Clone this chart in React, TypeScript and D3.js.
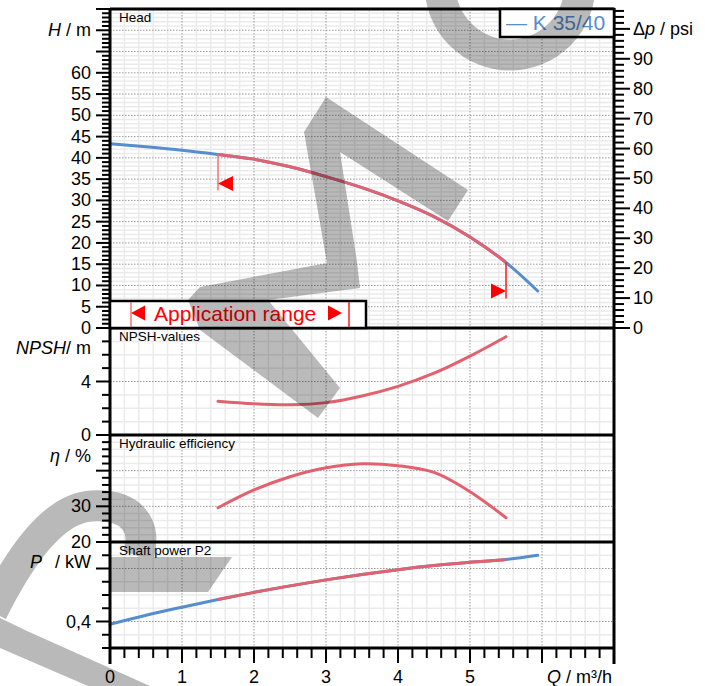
import { useEffect, useRef } from 'react';
import * as d3 from 'd3';

// pump curve K 35/40
const Q_FULL = [0, 0.5, 1, 1.5, 2, 2.5, 3, 3.5, 4, 4.5, 5, 5.5, 5.94];
const HEAD_M = [43.3, 42.6, 41.8, 40.8, 39.7, 37.9, 35.6, 33.0, 29.9, 26.2, 21.4, 15.4, 8.7];
const POWER_KW = [0.379, 0.447, 0.508, 0.566, 0.62, 0.669, 0.714, 0.755, 0.791, 0.822, 0.847, 0.868, 0.9];

const Q_RANGE = [1.5, 2, 2.5, 3, 3.5, 4, 4.5, 5, 5.5];
const NPSH_M = [2.52, 2.33, 2.26, 2.42, 2.92, 3.64, 4.62, 5.9, 7.35];
const EFF_PCT = [29.6, 34.6, 38.3, 40.8, 41.95, 41.4, 39.5, 34.1, 26.8];

const APP_RANGE = [1.5, 5.5];

const Q_LABELS = [0, 1, 2, 3, 4, 5];
const H_LABELS = [0, 5, 10, 15, 20, 25, 30, 35, 40, 45, 50, 55, 60];
const PSI_LABELS = [0, 10, 20, 30, 40, 50, 60, 70, 80, 90];
const NPSH_LABELS = [0, 4];
const EFF_LABELS = [20, 30];
const P_LABELS = [0.4];

const M_TO_PSI = 1.42197;
const FONT = '"Liberation Sans", Arial, Helvetica, sans-serif';
const BLUE = '#558dcd';
const RED = '#e2616e';

// watermark (decorative, pixel space)
const WATERMARK_FILLS = [
  'M326,97 L468,190 L448,221 L340,152 L357,262 L360,288 L268,300 L340,388 L318,418 L200,330 L188,300 L200,287 L327,263 L304,132 Z',
  'M110,557 L232,557 L208,592 L110,592 Z',
  'M0,618 L27,631 L150,686 L88,686 L0,648 Z',
];
const WATERMARK_STROKES = [
  'M440,-15 A70,70 0 0 0 580,-15',
  'M-8,612 C18,560 52,508 92,506 C132,504 148,526 138,556',
];

export default function App() {
  const svgRef = useRef<SVGSVGElement>(null);

  useEffect(() => {
    if (!svgRef.current) return;
    const svg = d3.select(svgRef.current);
    svg.selectAll('*').remove();

    const X0 = 110, X1 = 614;
    const x = d3.scaleLinear().domain([0, 7]).range([X0, X1]);

    const panels = [
      { top: 9, bottom: 328, domain: [0, 75], minor: 1, major: 5, title: 'Head' },
      { top: 328, bottom: 435, domain: [0, 8], minor: 1, major: 4, title: 'NPSH-values' },
      { top: 435, bottom: 542, domain: [20, 50], minor: 2, major: 10, title: 'Hydraulic efficiency' },
      { top: 542, bottom: 648, domain: [0.2, 1.0], minor: 0.1, major: 0.4, title: 'Shaft power P2' },
    ].map(p => ({ ...p, y: d3.scaleLinear().domain(p.domain).range([p.bottom, p.top]) }));
    const [yH, yN, yE, yP] = panels.map(p => p.y);
    const yPsi = d3.scaleLinear().domain([0, 75 * M_TO_PSI]).range([328, 9]);

    const isMajor = (v: number, step: number) => Math.abs(v / step - Math.round(v / step)) < 1e-6;
    const stepsOf = (p: any) => {
      const n = Math.round((p.domain[1] - p.domain[0]) / p.minor);
      return d3.range(0, n + 1).map(i => p.domain[0] + i * p.minor);
    };

    const defs = svg.append('defs');
    defs.append('clipPath').attr('id', 'appClip')
      .append('rect').attr('x', x(APP_RANGE[0])).attr('y', 0)
      .attr('width', x(APP_RANGE[1]) - x(APP_RANGE[0])).attr('height', 686);

    // grid
    const grid = svg.append('g');
    const qMinor = d3.range(1, 35).map(i => i * 0.2);
    panels.forEach(p => {
      qMinor.forEach(q => {
        if (isMajor(q, 1)) return;
        grid.append('line').attr('x1', x(q)).attr('x2', x(q)).attr('y1', p.top).attr('y2', p.bottom)
          .attr('stroke', '#ebebeb').attr('stroke-width', 1.5);
      });
      stepsOf(p).slice(1, -1).forEach(v => {
        if (isMajor(v, p.major)) return;
        grid.append('line').attr('x1', X0).attr('x2', X1).attr('y1', p.y(v)).attr('y2', p.y(v))
          .attr('stroke', '#ebebeb').attr('stroke-width', 1.5);
      });
    });
    panels.forEach(p => {
      d3.range(1, 7).forEach(q => {
        grid.append('line').attr('x1', x(q)).attr('x2', x(q)).attr('y1', p.top).attr('y2', p.bottom)
          .attr('stroke', '#9a9a9a').attr('stroke-width', 1).attr('stroke-dasharray', '1.5,1.5');
      });
      stepsOf(p).slice(1, -1).forEach(v => {
        if (!isMajor(v, p.major)) return;
        grid.append('line').attr('x1', X0).attr('x2', X1).attr('y1', p.y(v)).attr('y2', p.y(v))
          .attr('stroke', '#9a9a9a').attr('stroke-width', 1).attr('stroke-dasharray', '1.5,1.5');
      });
    });

    // curves
    const curves = svg.append('g').attr('fill', 'none').attr('stroke-width', 3).attr('stroke-linecap', 'round');
    const smooth = d3.curveCatmullRom.alpha(0.5);
    const lineFull = (y: any) => d3.line<number>().x((_, i) => x(Q_FULL[i])).y(d => y(d)).curve(smooth);
    const lineRange = (y: any) => d3.line<number>().x((_, i) => x(Q_RANGE[i])).y(d => y(d)).curve(smooth);

    curves.append('path').attr('d', lineFull(yH)(HEAD_M)).attr('stroke', BLUE);
    curves.append('path').attr('d', lineFull(yH)(HEAD_M)).attr('stroke', RED).attr('stroke-linecap', 'butt').attr('clip-path', 'url(#appClip)');
    curves.append('path').attr('d', lineFull(yP)(POWER_KW)).attr('stroke', BLUE);
    curves.append('path').attr('d', lineFull(yP)(POWER_KW)).attr('stroke', RED).attr('stroke-linecap', 'butt').attr('clip-path', 'url(#appClip)');
    curves.append('path').attr('d', lineRange(yN)(NPSH_M)).attr('stroke', RED);
    curves.append('path').attr('d', lineRange(yE)(EFF_PCT)).attr('stroke', RED);

    // application range markers on the head curve
    const hAt = (q: number) => HEAD_M[Q_FULL.indexOf(q)];
    const mk = svg.append('g');
    const xa = x(APP_RANGE[0]), ya = yH(hAt(APP_RANGE[0]));
    mk.append('line').attr('x1', xa).attr('x2', xa).attr('y1', ya).attr('y2', ya + 36).attr('stroke', '#f37575').attr('stroke-width', 1.5);
    mk.append('path').attr('d', `M${xa},${ya + 29} L${xa + 15},${ya + 21.5} L${xa + 15},${ya + 36.5} Z`).attr('fill', '#ff0000');
    const xb = x(APP_RANGE[1]), yb = yH(hAt(APP_RANGE[1]));
    mk.append('line').attr('x1', xb).attr('x2', xb).attr('y1', yb).attr('y2', yb + 36).attr('stroke', '#ff1a1a').attr('stroke-width', 1.5);
    mk.append('path').attr('d', `M${xb},${yb + 28.5} L${xb - 15},${yb + 21} L${xb - 15},${yb + 36} Z`).attr('fill', '#ff0000');

    // frame, separators, axes
    const ax = svg.append('g').attr('stroke', '#000').attr('stroke-width', 3);
    ax.append('line').attr('x1', X0).attr('x2', X1).attr('y1', 9).attr('y2', 9);
    [328, 435, 542, 648].forEach(yy => ax.append('line').attr('x1', X0).attr('x2', X1).attr('y1', yy).attr('y2', yy));
    ax.append('line').attr('x1', X0).attr('x2', X0).attr('y1', 8).attr('y2', 664);
    ax.append('line').attr('x1', X1).attr('x2', X1).attr('y1', 8).attr('y2', 664);

    const ticks = svg.append('g').attr('stroke', '#000').attr('stroke-width', 2);
    panels.forEach(p => {
      stepsOf(p).forEach(v => {
        const len = isMajor(v, p.major) ? 14 : 8;
        ticks.append('line').attr('x1', X0 - len).attr('x2', X0).attr('y1', p.y(v)).attr('y2', p.y(v));
      });
    });
    d3.range(0, 54).map(i => i * 2).forEach(v => {
      const len = isMajor(v, 10) ? 16 : 10;
      ticks.append('line').attr('x1', X1).attr('x2', X1 + len).attr('y1', yPsi(v)).attr('y2', yPsi(v));
    });
    d3.range(0, 36).map(i => i * 0.2).forEach(q => {
      const len = isMajor(q, 1) ? 15 : 10;
      ticks.append('line').attr('x1', x(q)).attr('x2', x(q)).attr('y1', 648).attr('y2', 648 + len);
    });

    // boxes
    svg.append('rect').attr('x', X0).attr('y', 301).attr('width', 256).attr('height', 27)
      .attr('fill', '#fff').attr('stroke', '#000').attr('stroke-width', 2.5);
    svg.append('rect').attr('x', 500).attr('y', 9).attr('width', 114).attr('height', 28)
      .attr('fill', '#fff').attr('stroke', '#000').attr('stroke-width', 2.5);

    // application range legend
    const ar = svg.append('g');
    ar.append('line').attr('x1', 131).attr('x2', 131).attr('y1', 302).attr('y2', 327).attr('stroke', '#f37575').attr('stroke-width', 1.5);
    ar.append('path').attr('d', 'M131,313 L145,305.5 L145,320.5 Z').attr('fill', '#ff0000');
    ar.append('text').attr('x', 154).attr('y', 321).attr('fill', '#ff0000').attr('font-size', 21).attr('font-family', FONT).text('Application range');
    ar.append('path').attr('d', 'M342,313 L328,305.5 L328,320.5 Z').attr('fill', '#ff0000');
    ar.append('line').attr('x1', 349).attr('x2', 349).attr('y1', 302).attr('y2', 327).attr('stroke', '#ff1a1a').attr('stroke-width', 1.5);

    // texts
    const t = svg.append('g').attr('font-family', FONT).attr('fill', '#000');
    const label = (xx: number, yy: number, anchor: string, size: number) =>
      t.append('text').attr('x', xx).attr('y', yy).attr('text-anchor', anchor).attr('dominant-baseline', 'central').attr('font-size', size);

    panels.forEach(p => {
      t.append('text').attr('x', 119).attr('y', p.top + 13).attr('font-size', 13.5).text(p.title);
    });
    H_LABELS.forEach(v => label(91, yH(v), 'end', 18).text(v));
    NPSH_LABELS.forEach(v => label(91, yN(v), 'end', 18).text(v));
    EFF_LABELS.forEach(v => label(91, yE(v), 'end', 18).text(v));
    P_LABELS.forEach(v => label(91, yP(v), 'end', 18).text(String(v).replace('.', ',')));
    PSI_LABELS.forEach(v => label(633, yPsi(v), 'start', 18).text(v));
    Q_LABELS.forEach(v => t.append('text').attr('x', x(v)).attr('y', 683).attr('text-anchor', 'middle').attr('font-size', 18).text(v));

    const axisTitle = (xx: number, yy: number, italic: string, rest: string, gap = 0) => {
      const el = label(xx, yy, 'end', 18);
      el.append('tspan').attr('font-style', 'italic').text(italic);
      el.append('tspan').attr('dx', gap).text(rest);
    };
    axisTitle(91, yH(70), 'H', ' / m');
    axisTitle(91, yN(6.5), 'NPSH', '/ m');
    axisTitle(91, yE(44), 'η', ' / %');
    axisTitle(91, yP(0.85), 'P', ' / kW', 8);
    const dp = label(633, yPsi(100), 'start', 18);
    dp.append('tspan').text('Δ');
    dp.append('tspan').attr('font-style', 'italic').text('p');
    dp.append('tspan').text(' / psi');
    const qt = t.append('text').attr('x', 612).attr('y', 683).attr('text-anchor', 'end').attr('font-size', 18);
    qt.append('tspan').attr('font-style', 'italic').text('Q');
    qt.append('tspan').text(' / m³/h');

    t.append('text').attr('x', 506).attr('y', 30).attr('font-size', 21).attr('fill', BLUE).text('— K 35/40');

    // watermark on top
    const wm = svg.append('g').attr('opacity', 0.27);
    WATERMARK_STROKES.forEach(d => wm.append('path').attr('d', d).attr('fill', 'none').attr('stroke', '#000').attr('stroke-width', 31));
    WATERMARK_FILLS.forEach(d => wm.append('path').attr('d', d).attr('fill', '#000'));
  }, []);

  return (
    <svg ref={svgRef} width={705} height={686} viewBox="0 0 705 686"
      style={{ position: 'absolute', left: 0, top: 0, background: '#fff' }} />
  );
}
